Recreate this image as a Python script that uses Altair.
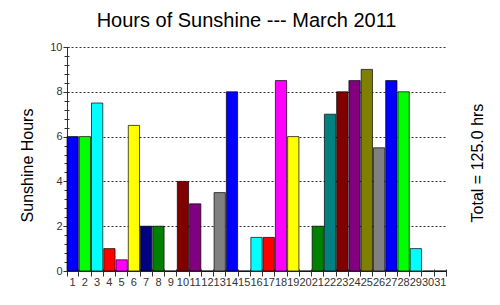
import altair as alt
import pandas as pd

days = list(range(1, 32))
hours = [6, 6, 7.5, 1, 0.5, 6.5, 2, 2, 0, 4, 3, 0, 3.5, 8, 0,
         1.5, 1.5, 8.5, 6, 0, 2, 7, 8, 8.5, 9, 5.5, 8.5, 8, 1, 0, 0]
colors = ["#0000FF", "#00FF00", "#00FFFF", "#FF0000", "#FF00FF", "#FFFF00",
          "#000080", "#008000", "#008080", "#800000", "#800080", "#808000",
          "#808080",
          "#0000FF", "#00FF00", "#00FFFF", "#FF0000", "#FF00FF", "#FFFF00",
          "#000080", "#008000", "#008080", "#800000", "#800080", "#808000",
          "#808080",
          "#0000FF", "#00FF00", "#00FFFF", "#FF0000", "#FF00FF"]
y_major = [0, 2, 4, 6, 8, 10]
y_minor = [round(i * 0.4, 1) for i in range(26)]
title_text = "Hours of Sunshine --- March 2011"
y_title = "Sunshine Hours"

FONT = "Liberation Sans"
df = pd.DataFrame({"day": days, "hours": hours})
total = sum(hours)
tdf = pd.DataFrame({"t": [f"Total = {total:.1f} hrs"]})

xscale = alt.Scale(paddingInner=0.08, paddingOuter=0)
yscale = alt.Scale(domain=[0, 10], nice=False)

bars = alt.Chart(df).mark_bar(stroke="black", strokeWidth=0.7).encode(
    x=alt.X("day:O", scale=xscale,
            axis=alt.Axis(title=None, labelAngle=0, ticks=False, labelPadding=5,
                          labelFontSize=11, labelFont=FONT, labelColor="#333333",
                          domainColor="#333333", grid=False)),
    y=alt.Y("hours:Q", scale=yscale,
            axis=alt.Axis(values=y_major, grid=True, gridDash=[2, 2],
                          gridColor="#333333", gridOpacity=1, tickSize=4,
                          tickColor="#333333", domainColor="#333333",
                          labelPadding=1, labelFontSize=11, labelFont=FONT,
                          labelColor="#333333", title=y_title, titleFont=FONT,
                          titleFontSize=16, titleFontWeight="normal",
                          titleColor="black", titleX=-40, titleY=118,
                          titleBaseline="middle")),
    color=alt.Color("day:O", scale=alt.Scale(domain=days, range=colors), legend=None),
)

ticks = alt.Chart(df).mark_bar(opacity=0).encode(
    x=alt.X("day:O", scale=xscale,
            axis=alt.Axis(orient="bottom", title=None, labels=False, domain=False,
                          ticks=True, tickBand="extent", tickSize=7, offset=-2,
                          tickColor="#333333", grid=False)),
    y=alt.Y("hours:Q", scale=yscale,
            axis=alt.Axis(orient="left", values=y_minor, title=None, labels=False,
                          domain=False, ticks=True, tickSize=5, offset=-2,
                          tickColor="#333333", grid=False)),
)

total_text = alt.Chart(tdf).mark_text(
    angle=270, fontSize=16, font=FONT, color="black", align="center", baseline="middle"
).encode(x=alt.value(411), y=alt.value(116), text="t:N")

chart = alt.layer(bars, ticks, total_text).resolve_axis(
    x="independent", y="independent"
).properties(
    width=379, height=224,
    title=alt.TitleParams(title_text, fontSize=20, font=FONT, fontWeight="normal",
                          color="black", anchor="middle", dx=-10, offset=10),
    autosize=alt.AutoSizeParams(type="none"),
    padding={"left": 67, "top": 47, "right": 54, "bottom": 34},
).configure_view(stroke=None)

chart.save("out.html", embed_options={"renderer": "svg", "actions": False})
